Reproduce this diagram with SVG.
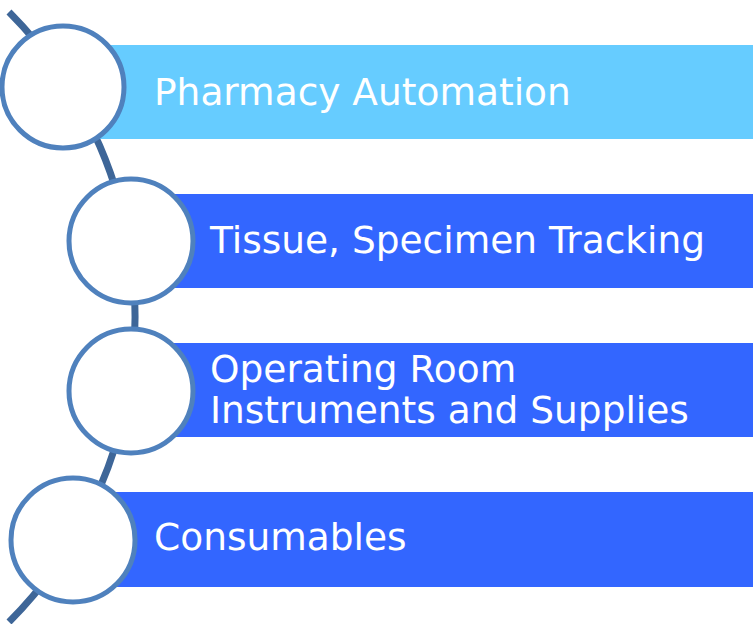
<svg xmlns="http://www.w3.org/2000/svg" width="753" height="624" viewBox="0 0 753 624">
<style>
.bar{stroke:none}
.circ{fill:#FFFFFF;stroke:#4F81BD;stroke-width:5}
.lbl{font-family:"DejaVu Sans",Verdana,sans-serif;font-size:37.5px;fill:#FFFFFF}
.arc{fill:none;stroke:#3E6698;stroke-width:7}
</style>
<rect width="753" height="624" fill="#FFFFFF"/>
<g id="connectors">
<path class="arc" d="M 9 12 A 432 432 0 0 1 9 622"/>
</g>
<g id="node1">
<rect class="bar" x="63" y="45" width="690" height="94" fill="#66CCFF"/>
<circle class="circ" cx="63" cy="87" r="61"/>
<text class="lbl" x="154" y="105">Pharmacy Automation</text>
</g>
<g id="node2">
<rect class="bar" x="131" y="194" width="622" height="94" fill="#3366FF"/>
<circle class="circ" cx="131" cy="241" r="62"/>
<text class="lbl" x="210" y="253">Tissue, Specimen Tracking</text>
</g>
<g id="node3">
<rect class="bar" x="131" y="343" width="622" height="94" fill="#3366FF"/>
<circle class="circ" cx="131" cy="391" r="62"/>
<text class="lbl" x="210" y="382">Operating Room</text>
<text class="lbl" x="210" y="423">Instruments and Supplies</text>
</g>
<g id="node4">
<rect class="bar" x="73" y="492" width="680" height="95" fill="#3366FF"/>
<circle class="circ" cx="73" cy="540" r="62"/>
<text class="lbl" x="154" y="550">Consumables</text>
</g>
</svg>
